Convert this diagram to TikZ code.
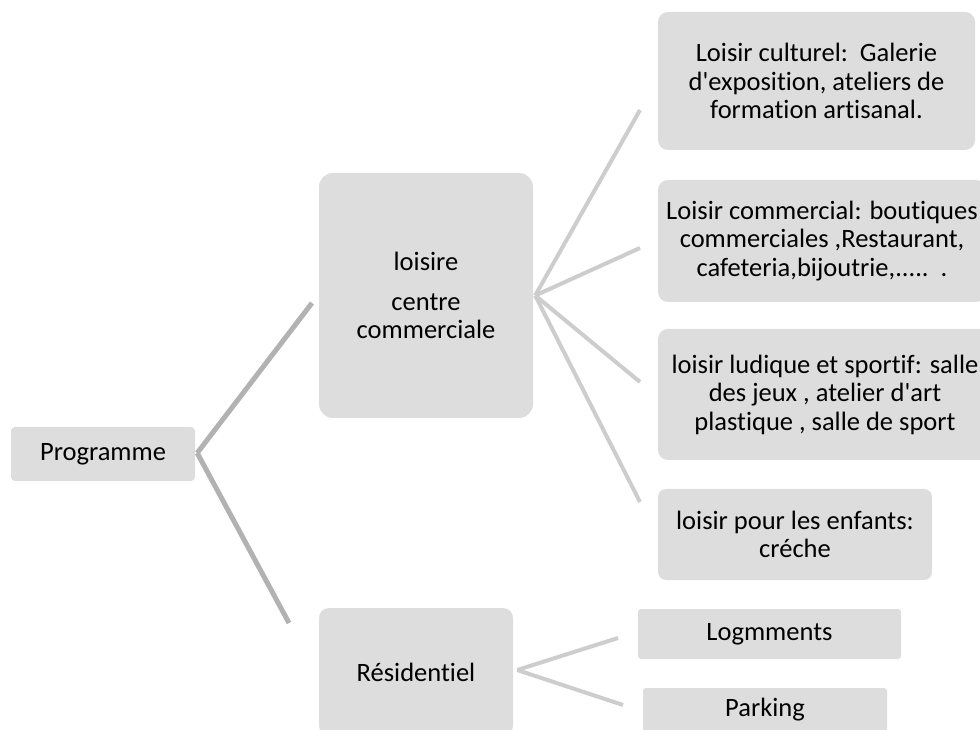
\documentclass[tikz,border=0pt]{standalone}
\usepackage{fontspec}
\setmainfont{Carlito}[Ligatures={NoCommon,TeXOff}]
\usepackage{tikz}
\usetikzlibrary{calc,positioning}
\definecolor{fondgris}{RGB}{221,221,221}
\definecolor{traitfonce}{RGB}{178,178,178}
\definecolor{traitclair}{RGB}{205,205,205}

\begin{document}
\begin{tikzpicture}[
		boite/.style={fill=fondgris, rounded corners=#1, inner sep=0pt, align=center, font=\fontsize{26.5}{28.5}\selectfont},
		boite/.default=4pt,
		lien/.style={draw=traitclair, line width=4pt},
		liensombre/.style={draw=traitfonce, line width=5pt}]
				\useasboundingbox (0pt,0pt) rectangle (980pt,729pt);
				 %\draw[color=gray,step=10pt, help lines,opacity=0.3] (0pt,0pt) grid (980pt,729pt); %help grids
				\node[boite, minimum width=184pt, minimum height=54pt] (prog) at (103pt,275pt) {Programme};
				\node[boite=14pt, minimum width=214pt, minimum height=245pt] (loisir) at (426pt,433.5pt) {loisire\\[11pt]centre\\commerciale};
				\node[boite=10pt, minimum width=194pt, minimum height=128pt] (resid) at (416pt,57pt) {Résidentiel};
				\node[boite=10pt, minimum width=317pt, minimum height=138pt] (cult) at (816.5pt,648pt) {Loisir culturel:\ \ Galerie\\d'exposition, ateliers de\\formation artisanal.};
				\node[boite=10pt, minimum width=328pt, minimum height=122pt] (comm) at (822pt,488pt) {Loisir commercial: boutiques\\commerciales ,Restaurant,\\cafeteria,bijoutrie,.....\ \ .};
				\node[boite=10pt, minimum width=334pt, minimum height=131pt] (ludi) at (825pt,334.5pt) {loisir ludique et sportif: salle\\des jeux , atelier d'art\\plastique , salle de sport};
				\node[boite=8pt, minimum width=274pt, minimum height=91pt] (enf) at (795pt,194.5pt) {loisir pour les enfants:\\créche};
				\node[boite=3pt, minimum width=263pt, minimum height=50pt] (logm) at (769.5pt,95pt) {Logmments};
				\node[boite=3pt, minimum width=244pt, minimum height=44pt] (park) at (765pt,19pt) {Parking};
				% points de depart et bouts libres des traits
				\coordinate (pv) at ($(prog.east)+(2pt,1pt)$);
				\coordinate (lv) at ($(loisir.east)+(2pt,0pt)$);
				\coordinate (rv) at ($(resid.east)+(4pt,2pt)$);
				\coordinate (pa) at (312pt,426pt);
				\coordinate (pb) at (289pt,106pt);
				\coordinate (la) at (640pt,619pt);
				\coordinate (lb) at (640pt,481pt);
				\coordinate (lc) at (640pt,347pt);
				\coordinate (ld) at (640pt,227pt);
				\coordinate (ra) at (618pt,91pt);
				\coordinate (rb) at (623pt,24pt);
				\draw[liensombre] (pv)--(pa);
				\draw[liensombre] (pv)--(pb);
				\draw[lien] (lv)--(la);
				\draw[lien] (lv)--(lb);
				\draw[lien] (lv)--(lc);
				\draw[lien] (lv)--(ld);
				\draw[lien] (rv)--(ra);
				\draw[lien] (rv)--(rb);
\end{tikzpicture}
\end{document}
